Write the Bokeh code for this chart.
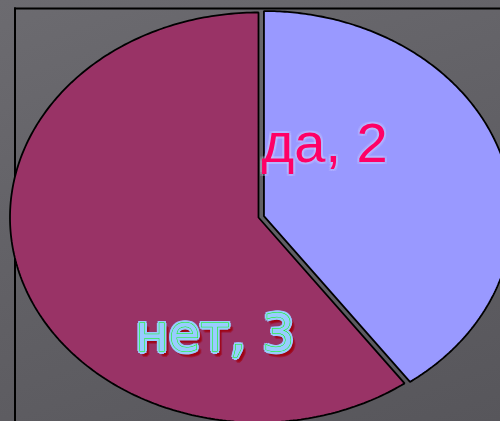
import numpy as np
from bokeh.plotting import figure
from bokeh.models import ColumnDataSource, BoxAnnotation, GlobalInlineStyleSheet
from bokeh.core.properties import value
from bokeh.embed import file_html
from bokeh.resources import INLINE

# ---- data ----
categories = ["да", "нет"]
counts = [2, 3]
colors = ["#9999FF", "#993366"]
labels = [f"{c}, {v}" for c, v in zip(categories, counts)]
explode = [0.023, 0.0]

# label anchor positions (unit-pie coordinates), manually placed as in the original
label_x = [0.266, -0.175]
label_y = [0.366, -0.566]

# ---- slices (pie drawn as a circle in data space, stretched by the axes) ----
total = sum(counts)
fracs = np.array(counts) / total
start = np.pi / 2 - 2 * np.pi * np.concatenate([[0], np.cumsum(fracs)[:-1]])
end = start - 2 * np.pi * fracs
xs, ys = [], []
for s, e, ex in zip(start, end, explode):
    mid = (s + e) / 2
    cx, cy = ex * np.cos(mid), ex * np.sin(mid)
    t = np.linspace(s, e, 240)
    xs.append(list(np.concatenate([[cx], cx + np.cos(t), [cx]])))
    ys.append(list(np.concatenate([[cy], cy + np.sin(t), [cy]])))

src = ColumnDataSource(dict(xs=xs, ys=ys, color=colors))

p = figure(width=500, height=421, x_range=(-1.0382, 0.9738), y_range=(-0.9951, 1.0585),
           output_backend="svg", toolbar_location=None,
           x_axis_location=None, y_axis_location=None, min_border=0)
p.grid.visible = False
p.outline_line_color = None
p.background_fill_color = None
p.border_fill_color = None

# outer frame: left and top edges only (the rest runs off the picture); screen y counts from bottom
for l, r, t_, b in [(13.5, 15.5, 414, -100), (13.5, 5000, 414, 412)]:
    p.add_layout(BoxAnnotation(left=l, right=r, top=t_, bottom=b,
                               left_units="screen", top_units="screen",
                               right_units="screen", bottom_units="screen",
                               fill_color="black", fill_alpha=1, line_color=None,
                               level="underlay"))

p.patches("xs", "ys", source=src, fill_color="color", line_color="black", line_width=1.8)

font = value("Liberation Sans")
fs = "56px"

# "да, 2" with soft light glow
for dx, dy in [(-2, 0), (2, 0), (0, -2), (0, 2), (-2, -2), (2, 2), (-2, 2), (2, -2)]:
    p.text([label_x[0]], [label_y[0]], text=[labels[0]], text_font=font, text_font_size=fs,
           text_align="center", text_baseline="alphabetic", text_color="#d8d8ff",
           text_alpha=0.18, x_offset=dx, y_offset=dy)
p.text([label_x[0]], [label_y[0]], text=[labels[0]], text_font=font, text_font_size=fs,
       text_align="center", text_baseline="alphabetic", text_color="#FF0066")

# "нет, 3": dark red shadow, light blue thick outline, thin green line at the glyph edge
font2 = value("DejaVu Sans")
fs2 = "51px"
for dx, dy in [(3, 4), (4, 5), (2, 5), (5, 4), (4, 3), (3, 6)]:
    p.text([label_x[1]], [label_y[1]], text=[labels[1]], text_font=font2, text_font_size=fs2,
           text_align="center", text_baseline="alphabetic", text_color="#a0000f",
           text_alpha=0.4, x_offset=dx, y_offset=dy)
for dx, dy in [(-2.5, 0), (2.5, 0), (0, -2.5), (0, 2.5), (-1.8, -1.8), (1.8, 1.8), (-1.8, 1.8), (1.8, -1.8)]:
    p.text([label_x[1]], [label_y[1]], text=[labels[1]], text_font=font2, text_font_size=fs2,
           text_align="center", text_baseline="alphabetic", text_color="#99CCFF",
           x_offset=dx, y_offset=dy)
p.text([label_x[1]], [label_y[1]], text=[labels[1]], text_font=font2, text_font_size=fs2,
       text_align="center", text_baseline="alphabetic", text_color="#99CCFF",
       text_outline_color="#00FF00")
p.text([label_x[1]], [label_y[1]], text=[labels[1]], text_font=font2, text_font_size=fs2,
       text_align="center", text_baseline="alphabetic", text_color="#99CCFF")

p.stylesheets = [GlobalInlineStyleSheet(css=(
    "html, body { overflow: hidden; "
    "background: linear-gradient(160deg, #6c6b70 0%, #626166 45%, #57565b 100%) fixed; }"))]

open("out.html", "w").write(file_html(p, INLINE))
